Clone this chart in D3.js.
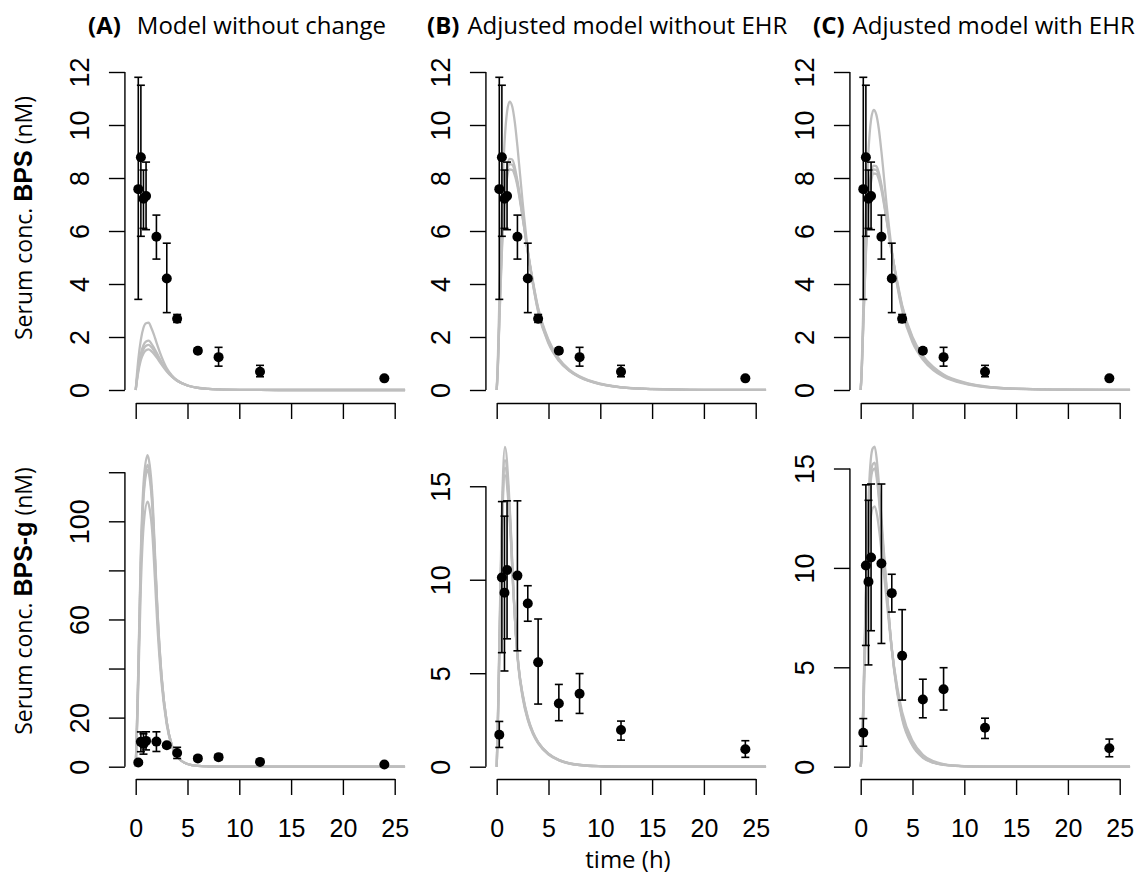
<!DOCTYPE html>
<html>
<head>
<meta charset="utf-8">
<script src="https://cdn.jsdelivr.net/npm/d3@7"></script>
<style>
  body { margin: 0; background: #fff; }
</style>
</head>
<body>
<script>
// observed serum concentrations: time points, means and error bar limits
var obsTime  = [0.25, 0.5, 0.75, 1, 2, 3, 4, 6, 8, 12, 24];
var bpsMean  = [7.58, 8.78, 7.22, 7.32, 5.78, 4.21, 2.69, 1.48, 1.24, 0.69, 0.44];
var bpsLow   = [3.42, 5.80, 6.10, 6.05, 4.94, 2.92, 2.55, 1.40, 0.90, 0.50, 0.40];
var bpsHigh  = [11.8, 11.5, 8.30, 8.60, 6.60, 5.54, 2.85, 1.58, 1.61, 0.93, 0.48];
var bpsgMean = [1.71, 10.12, 9.30, 10.52, 10.22, 8.73, 5.58, 3.38, 3.90, 1.96, 0.93];
var bpsgLow  = [1.03, 6.10, 5.12, 6.84, 6.20, 7.78, 3.35, 2.46, 2.85, 1.42, 0.50];
var bpsgHigh = [2.42, 14.18, 13.40, 14.22, 14.22, 9.68, 7.90, 4.40, 4.98, 2.44, 1.39];

// simulated model curves
var simTimeTop = [0, 0.1, 0.25, 0.5, 0.75, 1, 1.25, 1.5, 1.75, 2, 2.5, 3, 3.5, 4, 5, 6, 7, 8, 10, 12, 15, 20, 26];
var simBpsA = [
  [0, 0.50, 1.15, 1.90, 2.35, 2.52, 2.54, 2.35, 2.10, 1.80, 1.25, 0.82, 0.55, 0.37, 0.17, 0.08, 0.04, 0.02, 0.004, 0.001, 0, 0, 0],
  [0, 0.36, 0.83, 1.38, 1.69, 1.83, 1.86, 1.76, 1.60, 1.42, 1.05, 0.74, 0.51, 0.35, 0.17, 0.08, 0.04, 0.02, 0.004, 0.001, 0, 0, 0],
  [0, 0.33, 0.76, 1.26, 1.54, 1.67, 1.70, 1.62, 1.49, 1.34, 1.01, 0.72, 0.50, 0.35, 0.17, 0.08, 0.04, 0.02, 0.004, 0.001, 0, 0, 0],
  [0, 0.30, 0.68, 1.13, 1.38, 1.50, 1.53, 1.47, 1.37, 1.24, 0.96, 0.70, 0.50, 0.35, 0.17, 0.085, 0.042, 0.021, 0.005, 0.001, 0, 0, 0]
];
var simBpsB = [
  [0, 1.0, 3.3, 6.9, 9.3, 10.5, 10.88, 10.7, 10.1, 9.2, 7.1, 5.3, 4.0, 2.95, 1.75, 1.10, 0.72, 0.48, 0.22, 0.10, 0.035, 0.006, 0.001],
  [0, 0.8, 2.7, 5.6, 7.5, 8.4, 8.72, 8.70, 8.40, 7.9, 6.6, 5.2, 4.0, 3.00, 1.80, 1.12, 0.73, 0.49, 0.22, 0.10, 0.035, 0.006, 0.001],
  [0, 0.75, 2.6, 5.4, 7.3, 8.2, 8.52, 8.50, 8.25, 7.8, 6.55, 5.2, 4.05, 3.05, 1.85, 1.15, 0.75, 0.50, 0.23, 0.10, 0.035, 0.006, 0.001],
  [0, 0.7, 2.5, 5.2, 7.1, 8.0, 8.32, 8.30, 8.10, 7.7, 6.5, 5.25, 4.1, 3.10, 1.90, 1.18, 0.77, 0.52, 0.24, 0.11, 0.04, 0.007, 0.001]
];
var simBpsC = [
  [0, 0.9, 3.1, 6.6, 9.0, 10.2, 10.57, 10.4, 9.85, 9.0, 7.0, 5.3, 4.0, 3.0, 1.80, 1.15, 0.75, 0.50, 0.24, 0.11, 0.04, 0.008, 0.001],
  [0, 0.75, 2.6, 5.4, 7.3, 8.15, 8.47, 8.45, 8.2, 7.75, 6.5, 5.2, 4.05, 3.1, 1.90, 1.20, 0.80, 0.54, 0.26, 0.12, 0.045, 0.009, 0.001],
  [0, 0.72, 2.5, 5.25, 7.15, 8.0, 8.32, 8.30, 8.08, 7.65, 6.45, 5.2, 4.1, 3.15, 1.95, 1.25, 0.83, 0.56, 0.27, 0.13, 0.05, 0.01, 0.001],
  [0, 0.7, 2.45, 5.1, 7.0, 7.85, 8.17, 8.16, 7.95, 7.55, 6.4, 5.2, 4.15, 3.2, 2.00, 1.30, 0.87, 0.59, 0.29, 0.14, 0.05, 0.01, 0.001]
];
var simTimeBottom = [0, 0.1, 0.25, 0.5, 0.8, 1.15, 1.35, 1.6, 1.85, 2.1, 2.5, 3, 3.5, 4, 5, 6, 7, 8, 10, 12, 15, 20, 26];
var simBpsgA = [
  [0, 14, 40, 88, 118, 127, 123, 111, 88, 64, 37, 18, 8.5, 4.1, 1.1, 0.3, 0.09, 0.03, 0, 0, 0, 0, 0],
  [0, 13, 38, 85, 114, 123, 119.5, 108, 86, 63, 36.5, 18, 8.5, 4.1, 1.1, 0.3, 0.09, 0.03, 0, 0, 0, 0, 0],
  [0, 13, 37, 83, 112, 121, 117.5, 106, 85, 62, 36, 18, 8.5, 4.1, 1.1, 0.3, 0.09, 0.03, 0, 0, 0, 0, 0],
  [0, 11, 33, 74, 100, 108, 105, 95.5, 77, 57, 34, 17, 8.2, 4.0, 1.1, 0.3, 0.09, 0.03, 0, 0, 0, 0, 0]
];
var simBpsgB = [
  [0, 2.2, 6.5, 13.6, 17.1, 15.0, 12.9, 9.6, 7.0, 5.3, 3.7, 2.5, 1.75, 1.25, 0.65, 0.34, 0.17, 0.09, 0.025, 0.006, 0.001, 0, 0],
  [0, 2.1, 6.2, 13.0, 16.4, 14.6, 12.7, 9.6, 7.1, 5.4, 3.8, 2.55, 1.8, 1.28, 0.67, 0.35, 0.18, 0.09, 0.025, 0.006, 0.001, 0, 0],
  [0, 2.0, 6.0, 12.7, 16.0, 14.3, 12.5, 9.5, 7.1, 5.4, 3.85, 2.6, 1.82, 1.3, 0.68, 0.36, 0.18, 0.09, 0.026, 0.007, 0.001, 0, 0],
  [0, 1.9, 5.8, 12.3, 15.6, 14.0, 12.3, 9.4, 7.1, 5.45, 3.9, 2.65, 1.85, 1.32, 0.70, 0.37, 0.19, 0.10, 0.027, 0.007, 0.001, 0, 0]
];
var simBpsgC = [
  [0, 0.8, 3.2, 9.0, 14.0, 16.0, 16.1, 15.2, 13.6, 11.8, 9.0, 5.9, 3.8, 2.4, 1.05, 0.45, 0.20, 0.09, 0.02, 0.004, 0, 0, 0],
  [0, 0.75, 3.0, 8.5, 13.3, 15.2, 15.3, 14.5, 13.1, 11.5, 8.9, 5.95, 3.9, 2.5, 1.10, 0.48, 0.21, 0.10, 0.02, 0.004, 0, 0, 0],
  [0, 0.7, 2.9, 8.3, 13.0, 14.9, 15.0, 14.3, 12.9, 11.4, 8.85, 5.95, 3.95, 2.55, 1.15, 0.50, 0.22, 0.10, 0.02, 0.005, 0, 0, 0],
  [0, 0.6, 2.5, 7.2, 11.3, 13.0, 13.1, 12.6, 11.6, 10.4, 8.4, 5.9, 4.1, 2.75, 1.30, 0.60, 0.28, 0.13, 0.03, 0.006, 0.001, 0, 0]
];

// axis ticks and texts
var xTicks = [0, 5, 10, 15, 20, 25];
var yTicksTop = [0, 2, 4, 6, 8, 10, 12];
var yTicksBpsgA = [0, 20, 40, 60, 80, 100, 120];
var yLabelsBpsgA = [0, 20, 60, 100];
var yTicksBpsg = [0, 5, 10, 15];
var yMaxBottom = [128, 16.8, 15.8];
var panelTags = ["(A)", "(B)", "(C)"];
var panelTitles = ["Model without change", "Adjusted model without EHR", "Adjusted model with EHR"];

var svg = d3.select("body").append("svg")
    .attr("width", 1138)
    .attr("height", 877);

var colX0 = [135.7, 496.7, 860.7],
    colWidth = 259,
    rowAxisY = [403, 779];

var sans = "'Liberation Sans', Arial, sans-serif",
    myriad = "'Open Sans', sans-serif",
    grey = "#bebebe";

function drawPanel(col, row, y, simT, sims, mean, lo, hi, yTicks, yLabels) {
  var x = d3.scaleLinear().domain([0, 25]).range([colX0[col], colX0[col] + colWidth]);
  var axisX = x(-1.04);
  var g = svg.append("g");

  // model curves
  var line = d3.line()
      .x(function(d, i) { return x(simT[i]); })
      .y(function(d) { return y(d); })
      .curve(d3.curveMonotoneX);
  g.selectAll(".sim")
      .data(sims)
    .enter().append("path")
      .attr("d", line)
      .attr("fill", "none")
      .attr("stroke", grey)
      .attr("stroke-width", 2.3);

  // error bars
  var bars = g.selectAll(".err")
      .data(obsTime)
    .enter().append("g");
  bars.append("line")
      .attr("x1", function(d) { return x(d); })
      .attr("x2", function(d) { return x(d); })
      .attr("y1", function(d, i) { return y(lo[i]); })
      .attr("y2", function(d, i) { return y(hi[i]); });
  [lo, hi].forEach(function(lim) {
    bars.append("line")
        .attr("x1", function(d) { return x(d) - 4; })
        .attr("x2", function(d) { return x(d) + 4; })
        .attr("y1", function(d, i) { return y(lim[i]); })
        .attr("y2", function(d, i) { return y(lim[i]); });
  });
  bars.selectAll("line").attr("stroke", "#000").attr("stroke-width", 1.6);

  // observed points
  g.selectAll(".pt")
      .data(obsTime)
    .enter().append("circle")
      .attr("cx", function(d) { return x(d); })
      .attr("cy", function(d, i) { return y(mean[i]); })
      .attr("r", 5)
      .attr("fill", "#000");

  // y axis (R style: line from first to last tick, rotated labels)
  var ya = g.append("g")
      .attr("transform", "translate(" + axisX + ",0)")
      .call(d3.axisLeft(y).tickValues(yTicks).tickSize(16).tickSizeOuter(0)
        .tickFormat(function(d) { return yLabels.indexOf(d) >= 0 ? d : ""; }));
  ya.select(".domain").remove();
  ya.append("line")
      .attr("y1", y(yTicks[0]))
      .attr("y2", y(yTicks[yTicks.length - 1]))
      .attr("stroke", "#000");
  ya.selectAll("line").attr("stroke", "#000").attr("stroke-width", 1.4);
  ya.selectAll("text")
      .attr("x", 0)
      .attr("y", -36)
      .attr("dy", null)
      .attr("transform", "rotate(-90)")
      .attr("text-anchor", "middle")
      .style("font-family", sans)
      .style("font-size", "27px")
      .attr("fill", "#000");

  // x axis
  var xa = g.append("g")
      .attr("transform", "translate(0," + rowAxisY[row] + ")")
      .call(d3.axisBottom(x).tickValues(xTicks).tickSize(16).tickSizeOuter(0)
        .tickFormat(function(d) { return row === 1 ? d : ""; }));
  xa.select(".domain").attr("stroke", "#000").attr("stroke-width", 1.4);
  xa.selectAll("line").attr("stroke", "#000").attr("stroke-width", 1.4);
  xa.selectAll("text")
      .attr("y", 58)
      .attr("dy", null)
      .style("font-family", sans)
      .style("font-size", "25px")
      .attr("fill", "#000");
}

var yTop = d3.scaleLinear().domain([0, 12]).range([390, 72]);
var topSims = [simBpsA, simBpsB, simBpsC];
var bottomSims = [simBpsgA, simBpsgB, simBpsgC];

for (var c = 0; c < 3; c++) {
  drawPanel(c, 0, yTop, simTimeTop, topSims[c], bpsMean, bpsLow, bpsHigh, yTicksTop, yTicksTop);
  var yb = d3.scaleLinear().domain([0, yMaxBottom[c]]).range([766.7, 452.6]);
  drawPanel(c, 1, yb, simTimeBottom, bottomSims[c], bpsgMean, bpsgLow, bpsgHigh,
    c === 0 ? yTicksBpsgA : yTicksBpsg, c === 0 ? yLabelsBpsgA : yTicksBpsg);
}

// panel titles
var titleX = [88, 427, 813];
panelTags.forEach(function(tag, i) {
  var t = svg.append("text")
      .attr("x", titleX[i])
      .attr("y", 34)
      .style("font-family", myriad)
      .style("font-size", "24px")
      .attr("fill", "#000");
  t.append("tspan").style("font-weight", "bold").text(tag);
  t.append("tspan").attr("dx", i === 0 ? 16 : 8).text(panelTitles[i]);
});

// y axis titles
[["BPS", 218], ["BPS-g", 601]].forEach(function(d) {
  var t = svg.append("text")
      .attr("transform", "translate(32," + d[1] + ") rotate(-90)")
      .attr("text-anchor", "middle")
      .style("font-family", myriad)
      .style("font-size", "23px")
      .attr("fill", "#000");
  t.append("tspan").text("Serum conc. ");
  t.append("tspan").style("font-family", sans).style("font-weight", "bold").style("font-size", "25px").text(d[0]);
  t.append("tspan").text(" (nM)");
});

// x axis title
svg.append("text")
    .attr("x", 628)
    .attr("y", 868)
    .attr("text-anchor", "middle")
    .style("font-family", myriad)
    .style("font-size", "24px")
    .attr("fill", "#000")
    .text("time (h)");
</script>
</body>
</html>
